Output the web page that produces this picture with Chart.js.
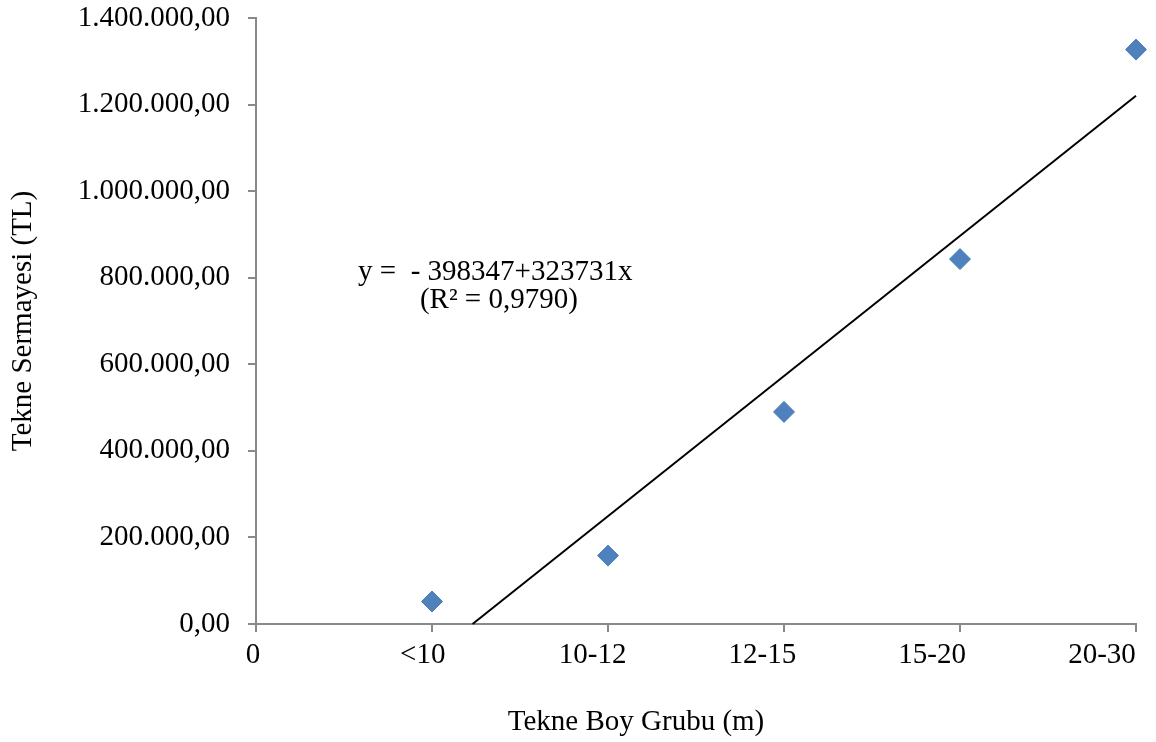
<!DOCTYPE html>
<html>
<head>
<meta charset="utf-8">
<script src="https://cdn.jsdelivr.net/npm/chart.js@4.4.0/dist/chart.umd.min.js"></script>
<style>
  html, body { margin: 0; padding: 0; background: #ffffff; }
  #wrap { width: 1156px; height: 742px; position: relative; }
</style>
</head>
<body>
<div id="wrap"><canvas id="c" width="1156" height="742"></canvas></div>
<script>
// ---- data ----
const categories = ["0", "<10", "10-12", "12-15", "15-20", "20-30"];
const xPositions = [1, 2, 3, 4, 5];
const capitalValues = [52000, 158000, 490000, 843000, 1327000];
const yTickLabels = ["0,00", "200.000,00", "400.000,00", "600.000,00", "800.000,00", "1.000.000,00", "1.200.000,00", "1.400.000,00"];
const trendIntercept = -398347;
const trendSlope = 323731;
const equationLines = ["y =  - 398347+323731x", "(R\u00b2 = 0,9790)"];
const xAxisTitle = "Tekne Boy Grubu (m)";
const yAxisTitle = "Tekne Sermayesi (TL)";

const FONT = "'Liberation Serif', 'Times New Roman', serif";
const FS = 29;

const scatterPts = xPositions.map((x, i) => ({ x: x, y: capitalValues[i] }));
const xStart = -trendIntercept / trendSlope;
const xEnd = xPositions[xPositions.length - 1];
const trendPts = [xStart, xEnd].map(x => ({ x: x, y: trendIntercept + trendSlope * x }));

const textPlugin = {
  id: 'texts',
  afterDraw(chart) {
    const ctx = chart.ctx;
    const xs = chart.scales.x, ys = chart.scales.y;
    ctx.save();
    ctx.fillStyle = '#000';
    ctx.font = FS + 'px ' + FONT;
    ctx.textBaseline = 'middle';
    // equation
    ctx.textAlign = 'left';
    ctx.fillText(equationLines[0], xs.getPixelForValue(0.58), ys.getPixelForValue(812000));
    ctx.textAlign = 'center';
    ctx.fillText(equationLines[1], xs.getPixelForValue(1.38), ys.getPixelForValue(748000));
    // x axis title
    ctx.fillText(xAxisTitle, 636, 722);
    ctx.restore();
  }
};

new Chart(document.getElementById('c'), {
  type: 'scatter',
  data: {
    datasets: [
      {
        label: 'Tekne Sermayesi',
        data: scatterPts,
        pointStyle: 'rectRot',
        pointRadius: 10.5,
        pointHoverRadius: 10.5,
        backgroundColor: '#4F81BD',
        borderColor: '#4A7EBB',
        borderWidth: 1,
        clip: false,
        order: 1
      },
      {
        label: 'Trend',
        type: 'line',
        data: trendPts,
        showLine: true,
        borderColor: '#000000',
        borderWidth: 2,
        pointRadius: 0,
        fill: false,
        clip: false,
        order: 2
      }
    ]
  },
  options: {
    responsive: false,
    animation: false,
    events: [],
    layout: { padding: { top: 18, right: 20, bottom: 0, left: 0 } },
    plugins: { legend: { display: false }, tooltip: { enabled: false }, title: { display: false } },
    scales: {
      x: {
        type: 'linear',
        position: 'bottom',
        weight: 0,
        min: 0, max: 5,
        afterFit(scale) { scale.height = 8; scale.paddingLeft = 0; scale.paddingRight = 0; },
        ticks: { stepSize: 1, display: false },
        grid: { drawOnChartArea: false, drawTicks: true, tickLength: 8, color: '#898989', lineWidth: 2 },
        border: { display: true, color: '#898989', width: 2 }
      },
      xLabels: {
        type: 'linear',
        position: 'bottom',
        weight: 1,
        min: 0.0177, max: 5.2003,
        afterFit(scale) { scale.height = 110; scale.paddingLeft = 0; scale.paddingRight = 0; },
        afterBuildTicks(scale) { scale.ticks = categories.map((c, i) => ({ value: i })); },
        ticks: {
          padding: 6,
          color: '#000',
          font: { family: FONT, size: FS },
          maxRotation: 0,
          autoSkip: false,
          callback: (v) => categories[v] !== undefined ? categories[v] : ''
        },
        grid: { display: false, drawTicks: false },
        border: { display: false }
      },
      y: {
        min: 0, max: 1400000,
        afterFit(scale) { scale.width = 256; scale.paddingTop = 0; scale.paddingBottom = 0; },
        ticks: {
          stepSize: 200000,
          padding: 18,
          color: '#000',
          font: { family: FONT, size: FS },
          callback: (v) => yTickLabels[Math.round(v / 200000)]
        },
        title: {
          display: true,
          text: yAxisTitle,
          color: '#000',
          font: { family: FONT, size: FS },
          padding: { top: 6, bottom: 0 }
        },
        grid: { drawOnChartArea: false, drawTicks: true, tickLength: 8, color: '#898989', lineWidth: 2 },
        border: { display: true, color: '#898989', width: 2 }
      }
    }
  },
  plugins: [textPlugin]
});
</script>
</body>
</html>
